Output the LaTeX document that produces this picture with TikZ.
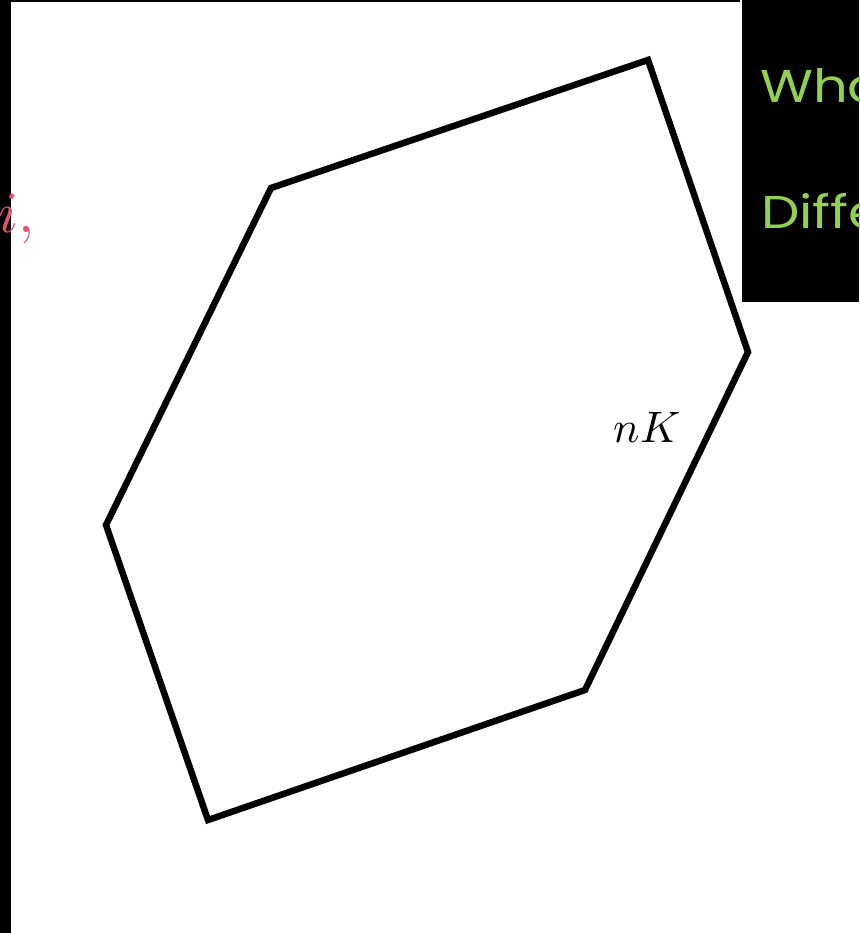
\documentclass[tikz,border=0pt]{standalone}
\usepackage{fontspec}
\usepackage{unicode-math}
\newfontfamily\slidefont{Poppins}
\usepackage{xcolor}
\definecolor{slidegreen}{HTML}{92D050}
\definecolor{slidepink}{HTML}{E5566E}
\usepackage{tikz}
\usetikzlibrary{calc}
\tikzset{
  hexline/.style={line width=6.5pt,line join=miter},
  greentext/.style={anchor=base west,inner sep=0pt,text=slidegreen,font=\slidefont\fontsize{46}{54}\selectfont},
  mathlabel/.style={anchor=base,inner sep=0pt,font=\fontsize{44}{52}\selectfont},
}

\begin{document}
\begin{tikzpicture}[x=1pt,y=-1pt]
\useasboundingbox (0,0) rectangle (859,933);
\begin{scope}
\clip (0,0) rectangle (859,933);
\fill[white] (0,0) rectangle (859,933);
\fill[black] (0,0) rectangle (11,933);
\fill[black] (0,0) rectangle (740,2.5);
\fill[black] (742,0) rectangle (859,302);
\node[greentext] (wha) at (760,103) {\scalebox{1.18}[1]{Wha}};
\node[greentext] (diffe) at (761,229) {\scalebox{1.18}[1]{Diffe}};
\node[mathlabel,text=slidepink,anchor=base west,font=\fontsize{58}{64}\selectfont] (icomma) at (-2,233) {$i,$};
\end{scope}
% hexagon
\coordinate (h1) at (648,60);
\coordinate (h2) at (748,352);
\coordinate (h3) at (585,690);
\coordinate (h4) at (208,820);
\coordinate (h5) at (106,525);
\coordinate (h6) at (271,188);
\draw[hexline] (h1)--(h2)--(h3)--(h4)--(h5)--(h6)--cycle;
\node[mathlabel] (nk) at (647,442) {$nK$};
\end{tikzpicture}
\end{document}
